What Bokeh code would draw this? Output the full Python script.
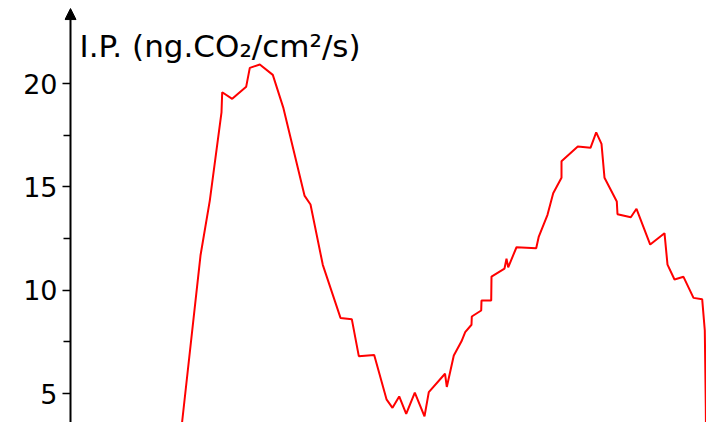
from bokeh.plotting import figure
from bokeh.models import Range1d, Label, FixedTicker, Arrow, NormalHead
from bokeh.embed import file_html
from bokeh.resources import INLINE

# time (arbitrary units) and I.P. values
time = [109, 111.7, 130, 139.3, 151, 151.7, 161.7, 175.7, 179.3, 189.3, 202.3, 212.7,
        234, 240, 252.3, 270, 281.3, 288.3, 303.7, 316, 322, 328.7, 335.7, 344.3, 354,
        358.3, 374.5, 376.3, 383.3, 391, 394.7, 401, 401.3, 410.7, 411, 420.7, 421, 434,
        436, 437.7, 446, 465.7, 468.3, 477, 482.7, 491, 491, 507.3, 520, 525.7, 531, 534,
        546.3, 547, 560.3, 566, 579.7, 594, 597, 604, 613, 623, 631.7, 634.3, 635.3, 635.6]
ip = [2.49, 3.66, 11.68, 14.34, 18.61, 19.58, 19.26, 19.85, 20.76, 20.92, 20.42, 18.85,
      14.58, 14.15, 11.23, 8.66, 8.60, 6.81, 6.87, 4.72, 4.31, 4.86, 4.02, 5.05, 3.90,
      5.07, 5.96, 5.32, 6.84, 7.53, 7.97, 8.33, 8.73, 9.02, 9.50, 9.50, 10.66, 11.05,
      11.53, 11.11, 12.08, 12.03, 12.60, 13.65, 14.69, 15.44, 16.24, 16.95, 16.89, 17.64,
      17.08, 15.44, 14.29, 13.68, 13.53, 13.94, 12.21, 12.76, 11.24, 10.52, 10.65, 9.63,
      9.56, 8.05, 4.34, 2.49]
major_ticks = [5, 10, 15, 20]
minor_ticks = [7.5, 12.5, 17.5]
y_title = "I.P. (ng.CO\u2082/cm\u00b2/s)"

FONT = "DejaVu Sans"
Y_LO, Y_HI = 3.60, 24.02
ARROW_TIP = 23.63

p = figure(width=706, height=422, output_backend="svg", toolbar_location=None,
           x_range=Range1d(-6, 636), y_range=Range1d(Y_LO, Y_HI),
           x_axis_location=None, min_border_left=64, min_border_right=0,
           min_border_top=0, min_border_bottom=0)
p.outline_line_color = None
p.grid.visible = False
p.background_fill_color = "white"

p.line(time, ip, line_color="#ff0000", line_width=2)

ax = p.yaxis[0]
ax.ticker = FixedTicker(ticks=major_ticks, minor_ticks=minor_ticks)
ax.axis_line_color = None
ax.major_tick_line_width = 1.5
ax.minor_tick_line_width = 1.5
ax.major_tick_line_color = "black"
ax.minor_tick_line_color = "black"
ax.major_tick_in = 6
ax.major_tick_out = 2
ax.minor_tick_in = 6
ax.minor_tick_out = 1
ax.major_label_standoff = 5
ax.major_label_text_font = FONT
ax.major_label_text_font_size = "27px"
ax.major_label_text_color = "black"

# vertical axis line with arrow head at x = 0
p.add_layout(Arrow(end=NormalHead(size=11, fill_color="black", line_color="black",
                                  line_width=1),
                   x_start=0, y_start=Y_LO, x_end=0, y_end=ARROW_TIP,
                   line_width=2, line_color="black"))

p.add_layout(Label(x=9, y=21.84, text=y_title, text_font=FONT, text_font_size="31px",
                   text_color="black", text_baseline="alphabetic"))

open("out.html", "w").write(file_html(p, INLINE))
